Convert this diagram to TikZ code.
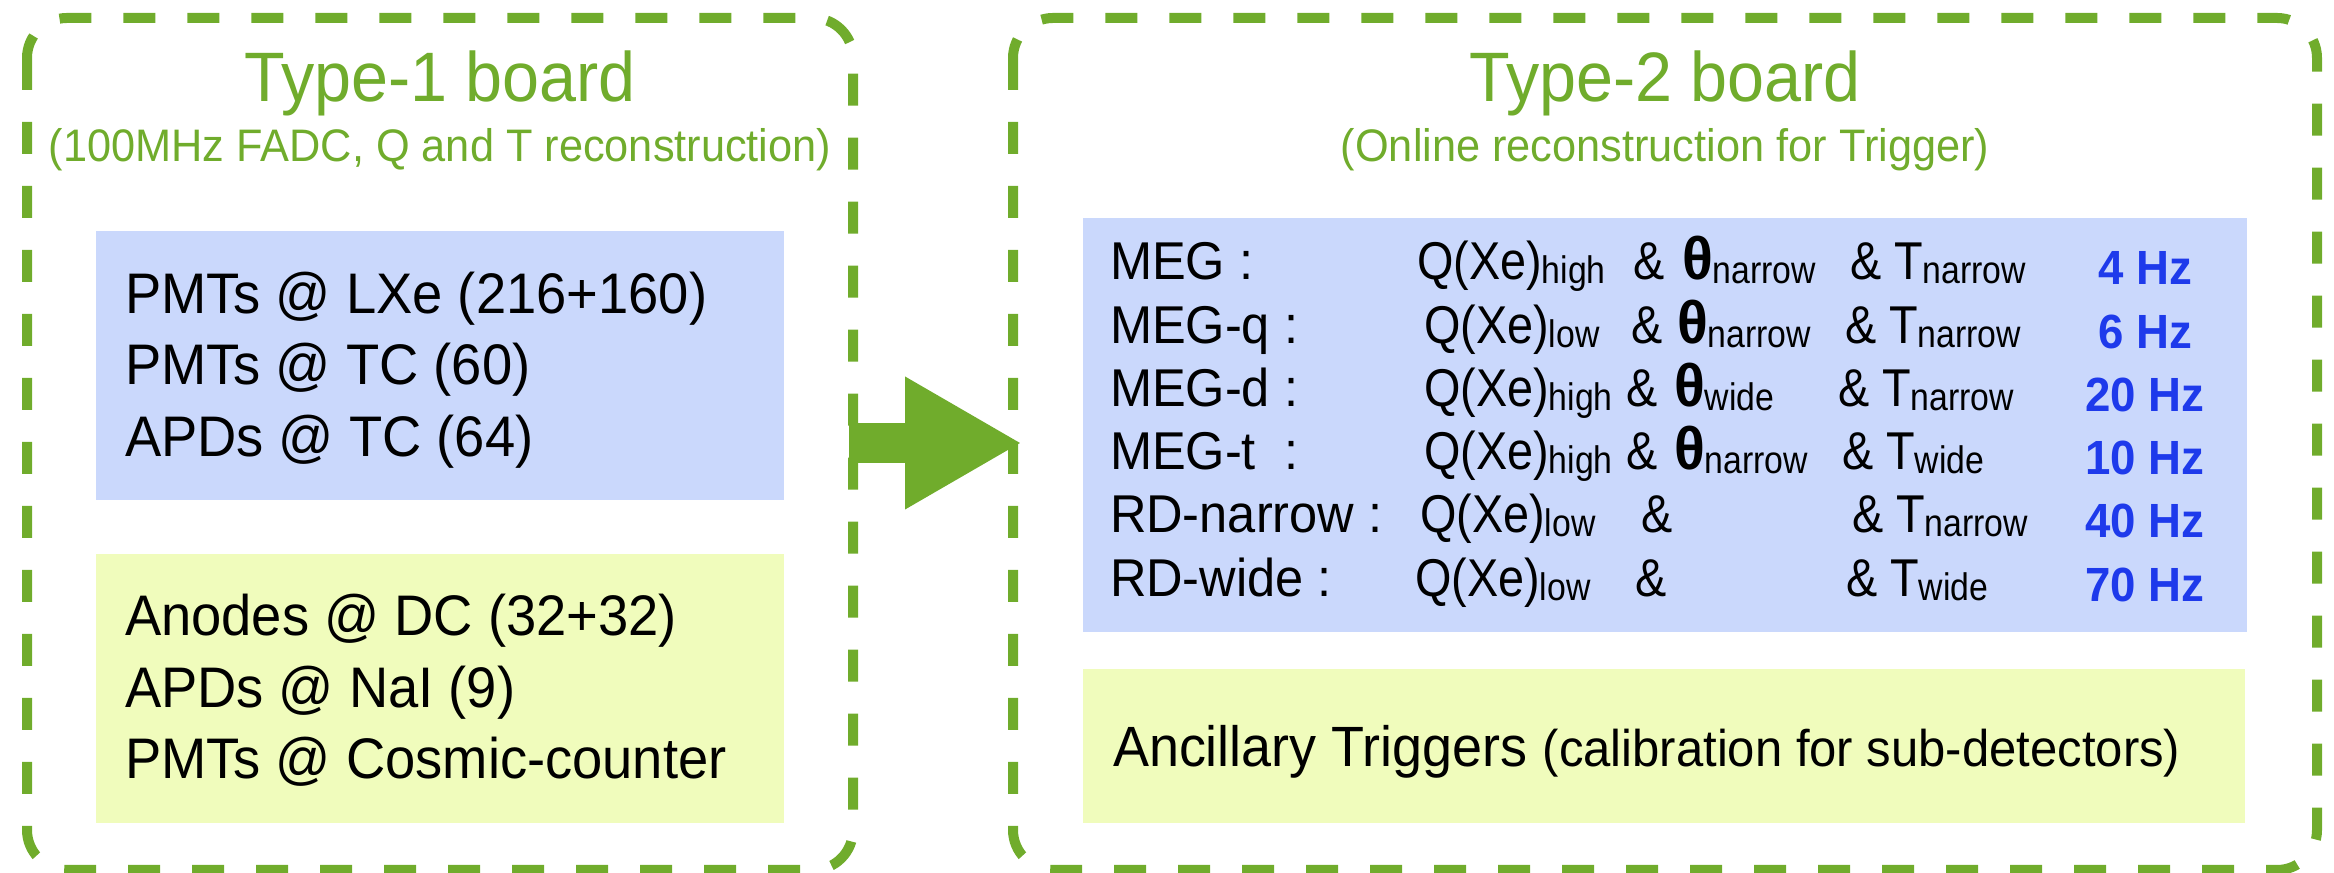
\documentclass[tikz,border=0pt]{standalone}
\usepackage{fontspec}
\setmainfont{Liberation Sans}[FakeStretch=0.95]
\newfontfamily\rfont{Liberation Sans}[FakeStretch=0.88]
\usetikzlibrary{arrows.meta}
\definecolor{bgreen}{RGB}{112,172,44}
\definecolor{lblue}{RGB}{202,216,252}
\definecolor{lgreen}{RGB}{240,252,188}
\definecolor{hzblue}{RGB}{30,58,235}
\newcommand\fs[1]{\fontsize{#1}{#1}\selectfont}
\newcommand\sbx[1]{\raisebox{-1pt}{\rfont\fs{9.6}#1}}
\newcommand\thet{{\normalfont\bfseries\fs{15}θ}}
\tikzset{
  board/.style={draw=bgreen, line width=2.5pt, dash pattern=on 8pt off 8pt, rounded corners=10pt},
  txt/.style={anchor=base west, inner sep=0pt, outer sep=0pt},
  ttl/.style={anchor=base, inner sep=0pt, text=bgreen, font=\fs{17.5}},
  subttl/.style={anchor=base, inner sep=0pt, text=bgreen, font=\fs{11.4}},
  ltxt/.style={txt, font=\fs{14.3}},
  rlab/.style={txt, font=\fs{13.3}},
  rtxt/.style={txt, font=\rfont\fs{13.3}},
  hz/.style={anchor=base, inner sep=0pt, text=hzblue, font=\bfseries\fs{12}},
  bigarrow/.style={bgreen, line width=10pt, -{Triangle[length=29.25pt, width=31pt]}}
}
\begin{document}
\begin{tikzpicture}[x=0.25pt,y=-0.25pt]
\useasboundingbox (0,0) rectangle (2334,873);
% boards
\draw[board] (27,18) rectangle (853,870);
\draw[board] (1013,18) rectangle (2317,870);
% inner boxes
\fill[lblue] (96,231) rectangle (784,500);
\fill[lgreen] (96,554) rectangle (784,823);
\fill[lblue] (1083,218) rectangle (2247,632);
\fill[lgreen] (1083,669) rectangle (2245,823);
% arrow
\coordinate (as) at (849,443);
\coordinate (at) at (1022,443);
\draw[bigarrow] (as) -- (at);
% titles
\node[ttl] (t1) at (440,102) {Type-1 board};
\node[subttl] (s1) at (440,162) {(100MHz FADC, Q and T reconstruction)};
\node[ttl] (t2) at (1665,102) {Type-2 board};
\node[subttl] (s2) at (1665,162) {(Online reconstruction for Trigger)};
% left texts
\node[ltxt] (l1) at (125,314) {PMTs @ LXe (216+160)};
\node[ltxt] (l2) at (125,385) {PMTs @ TC (60)};
\node[ltxt] (l3) at (125,457) {APDs @ TC (64)};
\node[ltxt] (l4) at (125,636) {Anodes @ DC (32+32)};
\node[ltxt] (l5) at (125,708) {APDs @ NaI (9)};
\node[ltxt] (l6) at (125,779) {PMTs @ Cosmic-counter};
% right rows
% row 1
\node[rlab] (r1a) at (1110,280) {MEG :};
\node[rtxt] (r1b) at (1417,280) {Q(Xe)\sbx{high}};
\node[rtxt] (r1c) at (1633,280) {\&};
\node[rtxt] (r1d) at (1682,280) {\thet\sbx{narrow}};
\node[rtxt] (r1e) at (1850,280) {\& T\sbx{narrow}};
\node[hz] (r1f) at (2145,285) {4 Hz};
% row 2
\node[rlab] (r2a) at (1110,344) {MEG-q :};
\node[rtxt] (r2b) at (1424,344) {Q(Xe)\sbx{low}};
\node[rtxt] (r2c) at (1631,344) {\&};
\node[rtxt] (r2d) at (1677,344) {\thet\sbx{narrow}};
\node[rtxt] (r2e) at (1845,344) {\& T\sbx{narrow}};
\node[hz] (r2f) at (2145,349) {6 Hz};
% row 3
\node[rlab] (r3a) at (1110,407) {MEG-d :};
\node[rtxt] (r3b) at (1424,407) {Q(Xe)\sbx{high}};
\node[rtxt] (r3c) at (1626,407) {\&};
\node[rtxt] (r3d) at (1674,407) {\thet\sbx{wide}};
\node[rtxt] (r3e) at (1838,407) {\& T\sbx{narrow}};
\node[hz] (r3f) at (2145,412) {20 Hz};
% row 4
\node[rlab] (r4a) at (1110,470) {MEG-t\ \ :};
\node[rtxt] (r4b) at (1424,470) {Q(Xe)\sbx{high}};
\node[rtxt] (r4c) at (1626,470) {\&};
\node[rtxt] (r4d) at (1674,470) {\thet\sbx{narrow}};
\node[rtxt] (r4e) at (1842,470) {\& T\sbx{wide}};
\node[hz] (r4f) at (2145,475) {10 Hz};
% row 5
\node[rlab] (r5a) at (1110,533) {RD-narrow :};
\node[rtxt] (r5b) at (1420,533) {Q(Xe)\sbx{low}};
\node[rtxt] (r5c) at (1641,533) {\&};
\node[rtxt] (r5e) at (1852,533) {\& T\sbx{narrow}};
\node[hz] (r5f) at (2145,538) {40 Hz};
% row 6
\node[rlab] (r6a) at (1110,597) {RD-wide :};
\node[rtxt] (r6b) at (1415,597) {Q(Xe)\sbx{low}};
\node[rtxt] (r6c) at (1635,597) {\&};
\node[rtxt] (r6e) at (1846,597) {\& T\sbx{wide}};
\node[hz] (r6f) at (2145,602) {70 Hz};
% ancillary
\node[txt] (anc) at (1113,767) {\fs{14.2}Ancillary Triggers {\fs{12.9}(calibration for sub-detectors)}};
\end{tikzpicture}
\end{document}
